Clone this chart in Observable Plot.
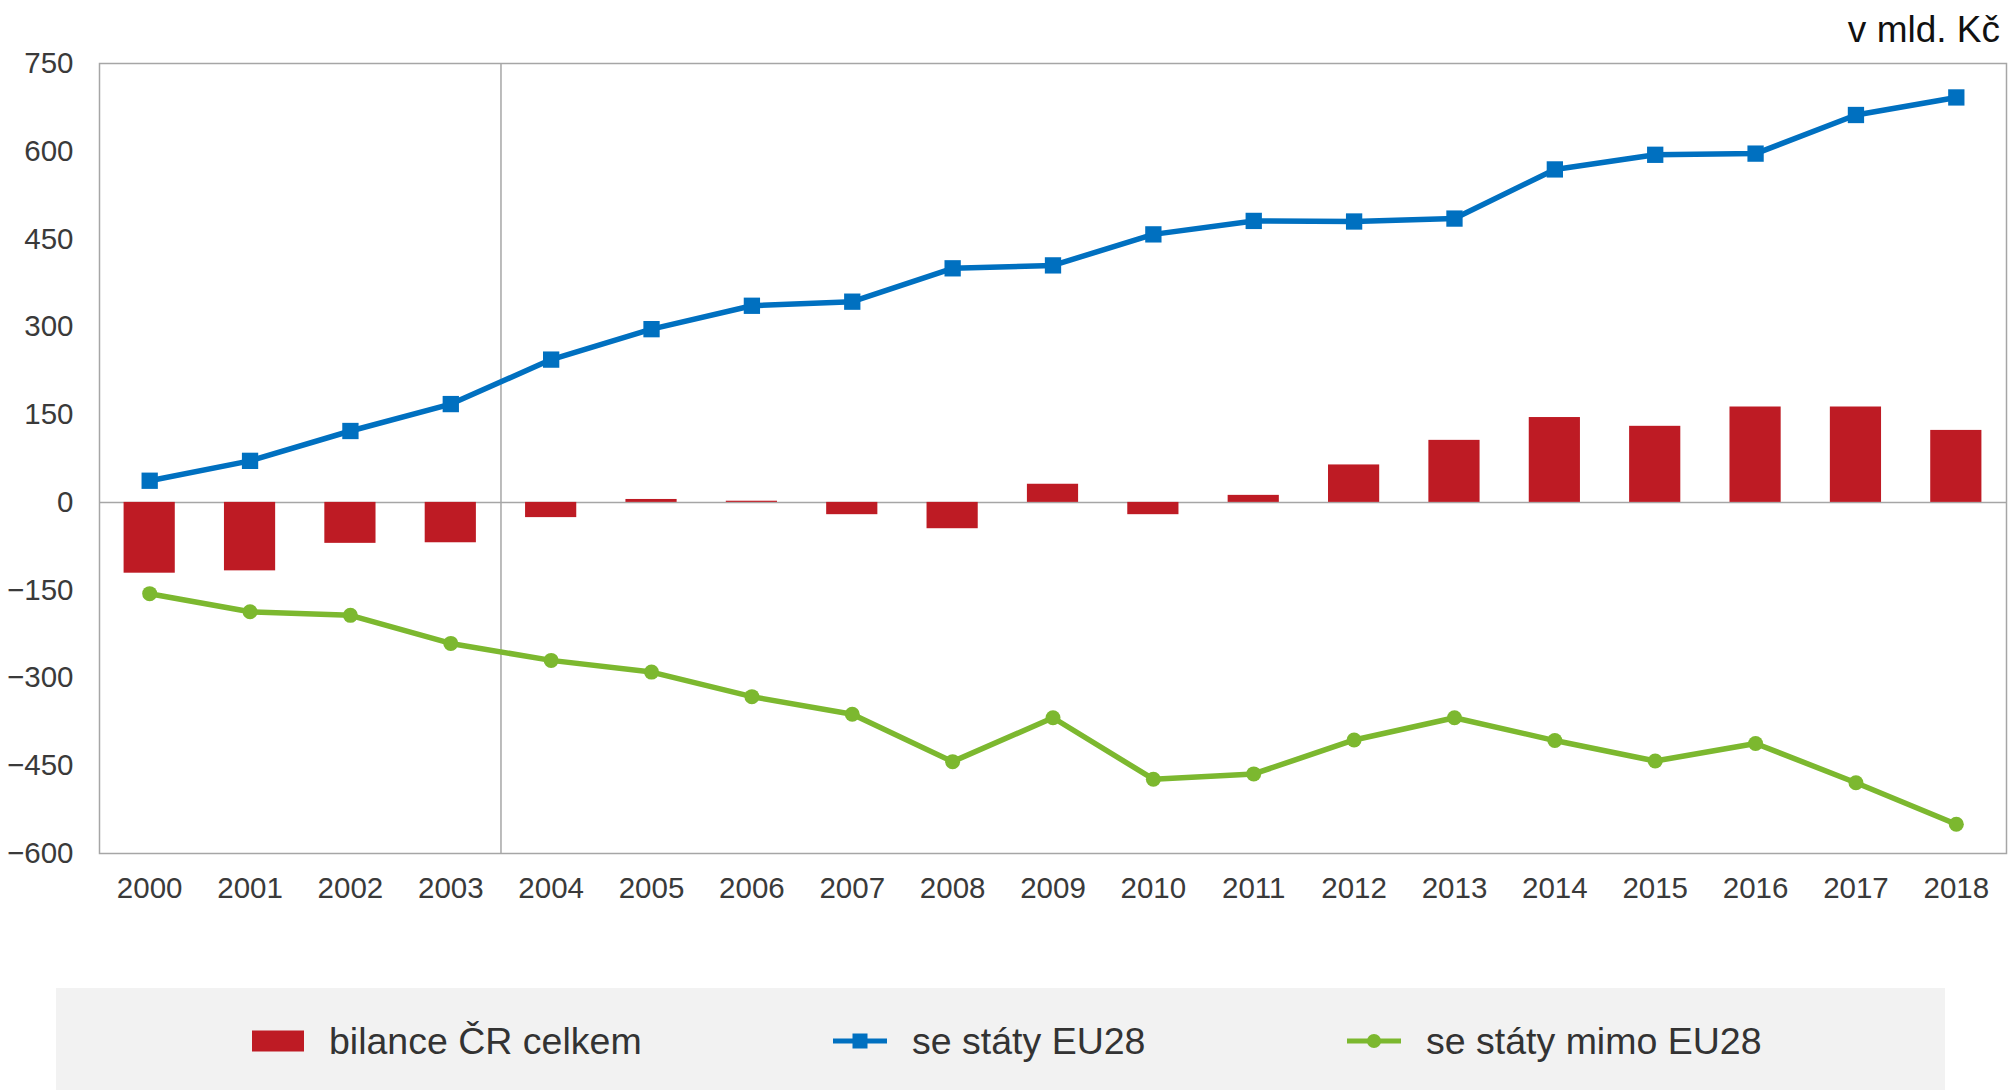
<!DOCTYPE html>
<html>
<head>
<meta charset="utf-8">
<script src="https://cdn.jsdelivr.net/npm/d3@7"></script>
<script src="https://cdn.jsdelivr.net/npm/@observablehq/plot@0.6"></script>
<style>
  html, body { margin: 0; padding: 0; background: #fff; }
  body { width: 2009px; height: 1090px; position: relative; overflow: hidden;
         font-family: "Liberation Sans", Arial, sans-serif; }
  #chart { position: absolute; left: 0; top: 0; }
  #unit { position: absolute; right: 9px; top: 11px; font-size: 37px; line-height: 37px; color: #111; }
  #legend { position: absolute; left: 56px; top: 988px; width: 1889px; height: 102px; background: #f2f2f2; }
  .item { position: absolute; top: 2px; height: 102px; display: flex; align-items: center;
          font-size: 37.5px; color: #333; white-space: nowrap; }
  .item svg { margin-right: 25px; }
</style>
</head>
<body>
<div id="chart"></div>
<div id="unit">v mld. Kč</div>
<div id="legend"></div>
<script>
// ---- data ----
const years = [2000, 2001, 2002, 2003, 2004, 2005, 2006, 2007, 2008, 2009,
               2010, 2011, 2012, 2013, 2014, 2015, 2016, 2017, 2018];
const balanceTotal = [-121, -117, -70, -69, -26, 5, 2, -21, -45, 31,
                      -21, 12, 64, 106, 145, 130, 163, 163, 123];
const balanceEU = [37, 71, 122, 168, 244, 296, 336, 343, 400, 405,
                   458, 481, 480, 485, 569, 594, 596, 662, 692];
const balanceNonEU = [-156, -187, -193, -241, -270, -290, -332, -362, -443, -368,
                      -473, -464, -406, -368, -407, -442, -412, -479, -550];
const yTicks = [-600, -450, -300, -150, 0, 150, 300, 450, 600, 750];
const seriesNames = ["bilance ČR celkem", "se státy EU28", "se státy mimo EU28"];
const dividerYear = "2004";

const RED = "#be1b24", BLUE = "#0070c0", GREEN = "#7cb82f", GRID = "#a6a6a6";

const rows = years.map((y, i) => ({
  year: String(y), total: balanceTotal[i], eu: balanceEU[i], nonEu: balanceNonEU[i]
}));

const W = 2009, H = 960, ML = 99, MR = 3, MT = 63, MB = 107;
const step = (W - ML - MR) / years.length;

const plot = Plot.plot({
  width: W, height: H,
  marginLeft: ML, marginRight: MR, marginTop: MT, marginBottom: MB,
  style: { fontFamily: '"Liberation Sans", Arial, sans-serif', fontSize: "29.5px", color: "#3a3a3a", background: "transparent", overflow: "visible" },
  x: { type: "band", domain: years.map(String), paddingInner: 0.49, paddingOuter: 0.245, align: 0.5, round: false,
       label: null, tickSize: 0, tickPadding: 24 },
  y: { domain: [-600, 750], ticks: yTicks, label: null, tickSize: 0, tickPadding: 26 },
  marks: [
    Plot.ruleX([dividerYear], { dx: -step / 2, stroke: GRID, strokeWidth: 1.5 }),
    Plot.ruleY([0], { stroke: GRID, strokeWidth: 1.5 }),
    Plot.barY(rows, { x: "year", y: "total", fill: RED }),
    Plot.lineY(rows, { x: "year", y: "eu", stroke: BLUE, strokeWidth: 5.5 }),
    Plot.dot(rows, { x: "year", y: "eu", symbol: "square", fill: BLUE, r: 9.2 }),
    Plot.lineY(rows, { x: "year", y: "nonEu", stroke: GREEN, strokeWidth: 5.5 }),
    Plot.dot(rows, { x: "year", y: "nonEu", symbol: "circle", fill: GREEN, r: 7.5 }),
    Plot.frame({ stroke: GRID, strokeWidth: 1.5 })
  ]
});
document.getElementById("chart").appendChild(plot);

// ---- legend (HTML) ----
const legend = document.getElementById("legend");
const items = [
  { name: seriesNames[0], left: 196, swatch: `<svg width="52" height="22"><rect x="0" y="0.5" width="52" height="21" fill="${RED}"/></svg>` },
  { name: seriesNames[1], left: 777, swatch: `<svg width="54" height="22"><line x1="0" x2="54" y1="11" y2="11" stroke="${BLUE}" stroke-width="5"/><rect x="19.5" y="3.5" width="15" height="15" fill="${BLUE}"/></svg>` },
  { name: seriesNames[2], left: 1291, swatch: `<svg width="54" height="22"><line x1="0" x2="54" y1="11" y2="11" stroke="${GREEN}" stroke-width="5"/><circle cx="27" cy="11" r="7" fill="${GREEN}"/></svg>` }
];
for (const it of items) {
  const d = document.createElement("div");
  d.className = "item";
  d.style.left = it.left + "px";
  d.innerHTML = it.swatch + `<span>${it.name}</span>`;
  legend.appendChild(d);
}
</script>
</body>
</html>
